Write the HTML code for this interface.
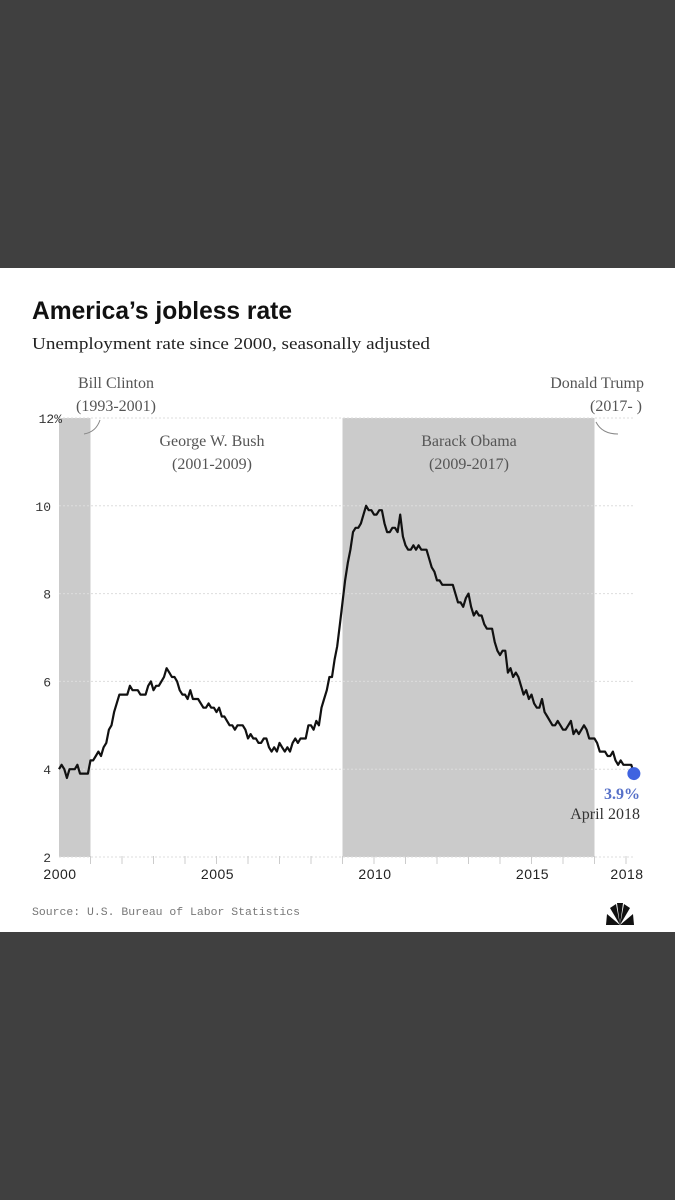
<!DOCTYPE html>
<html><head><meta charset="utf-8"><style>
body{margin:0;width:675px;height:1200px;background:#404040;position:relative;overflow:hidden;font-family:"Liberation Sans",sans-serif}
#card{position:absolute;left:0;top:268px;width:675px;height:664px;background:#fff}
</style></head><body>
<div id="card"></div>
<svg width="675" height="1200" style="position:absolute;left:0;top:0">
<text x="32" y="319" font-family="'Liberation Sans Narrow','Liberation Sans',sans-serif" font-weight="bold" font-size="25" fill="#111" textLength="260" lengthAdjust="spacingAndGlyphs">America’s jobless rate</text>
<text x="32" y="349" font-family="'Liberation Serif',serif" font-size="17" fill="#222" textLength="398" lengthAdjust="spacingAndGlyphs">Unemployment rate since 2000, seasonally adjusted</text>
<g id="bands"></g><g id="grid"></g><g id="ticks"></g>
<g font-family="'Liberation Serif',serif" font-size="16" fill="#555">
<text x="116" y="388" text-anchor="middle">Bill Clinton</text>
<text x="116" y="411" text-anchor="middle">(1993-2001)</text>
<text x="644" y="388" text-anchor="end">Donald Trump</text>
<text x="616" y="411" text-anchor="middle">(2017- )</text>
<text x="212" y="446" text-anchor="middle">George W. Bush</text>
<text x="212" y="469" text-anchor="middle">(2001-2009)</text>
<text x="469" y="446" text-anchor="middle">Barack Obama</text>
<text x="469" y="469" text-anchor="middle">(2009-2017)</text>
</g>
<path d="M100,420 Q96,432 84,434" fill="none" stroke="#888"/>
<path d="M596,422 Q602,434 618,434" fill="none" stroke="#888"/>
<path id="line" fill="none" stroke="#111" stroke-width="2.2" stroke-linejoin="round"/>
<circle id="dot" r="6.5" fill="#3f63e0"/>
<text x="640" y="799" text-anchor="end" font-family="'Liberation Serif',serif" font-weight="bold" font-size="16" fill="#5670c8">3.9%</text>
<text x="640" y="819" text-anchor="end" font-family="'Liberation Serif',serif" font-size="16" fill="#333">April 2018</text>
<text x="32" y="915" font-family="'Liberation Mono',monospace" font-size="11" fill="#777" textLength="268" lengthAdjust="spacingAndGlyphs">Source: U.S. Bureau of Labor Statistics</text>
<g transform="translate(620,918)" fill="#111">
<path d="M-14,7 L0,7 L-13,-4 Z"/><path d="M0,7 L-10,-10 L-4,-14 Z"/><path d="M0,7 L-3,-15 L3,-15 Z"/><path d="M0,7 L4,-14 L10,-10 Z"/><path d="M0,7 L13,-4 L14,7 Z"/>
</g>
</svg>
<script>
const years=[2000,2005,2010,2015,2018];
const yTicks=[2,4,6,8,10,12];
const presidents=[{name:"clinton",s:2000,e:2001},{name:"obama",s:2009,e:2017}];
const rates=[
4.0,4.1,4.0,3.8,4.0,4.0,4.0,4.1,3.9,3.9,3.9,3.9,
4.2,4.2,4.3,4.4,4.3,4.5,4.6,4.9,5.0,5.3,5.5,5.7,
5.7,5.7,5.7,5.9,5.8,5.8,5.8,5.7,5.7,5.7,5.9,6.0,
5.8,5.9,5.9,6.0,6.1,6.3,6.2,6.1,6.1,6.0,5.8,5.7,
5.7,5.6,5.8,5.6,5.6,5.6,5.5,5.4,5.4,5.5,5.4,5.4,
5.3,5.4,5.2,5.2,5.1,5.0,5.0,4.9,5.0,5.0,5.0,4.9,
4.7,4.8,4.7,4.7,4.6,4.6,4.7,4.7,4.5,4.4,4.5,4.4,
4.6,4.5,4.4,4.5,4.4,4.6,4.7,4.6,4.7,4.7,4.7,5.0,
5.0,4.9,5.1,5.0,5.4,5.6,5.8,6.1,6.1,6.5,6.8,7.3,
7.8,8.3,8.7,9.0,9.4,9.5,9.5,9.6,9.8,10.0,9.9,9.9,
9.8,9.8,9.9,9.9,9.6,9.4,9.4,9.5,9.5,9.4,9.8,9.3,
9.1,9.0,9.0,9.1,9.0,9.1,9.0,9.0,9.0,8.8,8.6,8.5,
8.3,8.3,8.2,8.2,8.2,8.2,8.2,8.0,7.8,7.8,7.7,7.9,
8.0,7.7,7.5,7.6,7.5,7.5,7.3,7.2,7.2,7.2,6.9,6.7,
6.6,6.7,6.7,6.2,6.3,6.1,6.2,6.1,5.9,5.7,5.8,5.6,
5.7,5.5,5.4,5.4,5.6,5.3,5.2,5.1,5.0,5.0,5.1,5.0,
4.9,4.9,5.0,5.1,4.8,4.9,4.8,4.9,5.0,4.9,4.7,4.7,
4.7,4.6,4.4,4.4,4.4,4.3,4.3,4.4,4.2,4.1,4.2,4.1,
4.1,4.1,4.1,3.9];
const X=t=>59+(t-2000)*31.5;
const Y=v=>857-(v-2)*43.9;
const NS="http://www.w3.org/2000/svg";
function mk(tag,attrs,parent){const e=document.createElementNS(NS,tag);for(const k in attrs)e.setAttribute(k,attrs[k]);document.getElementById(parent).appendChild(e);return e;}
const xEnd=X(2000+(rates.length-1)/12);
presidents.forEach(p=>{const r=mk("rect",{x:X(p.s),y:Y(12),width:X(p.e)-X(p.s),height:Y(2)-Y(12),fill:"#cbcbcb"},"bands");

});
yTicks.forEach(v=>{const l=mk("line",{x1:X(2000),x2:xEnd,y1:Y(v),y2:Y(v),stroke:"#ddd","stroke-dasharray":"2,2"},"grid");


const t=mk("text",{x:v==12?62:51,y:Y(v)+5,"text-anchor":"end","font-family":"'Liberation Mono',monospace","font-size":"13",fill:"#333"},"grid");
t.textContent=v==12?"12%":v;

});
for(let yr=2001;yr<=2018;yr++){const l=mk("line",{x1:X(yr),x2:X(yr),y1:Y(2)-1,y2:Y(2)+7,stroke:"#ccc"},"ticks");

}
years.forEach(yr=>{const t=mk("text",{x:X(yr)+1,y:879,"text-anchor":"middle","font-size":"14",fill:"#222","letter-spacing":"0.5"},"ticks");
t.textContent=yr;

});
let d="";rates.forEach((v,i)=>{d+=(i?"L":"M")+X(2000+i/12).toFixed(1)+","+Y(v).toFixed(1);});
document.getElementById("line").setAttribute("d",d);
const dot=document.getElementById("dot");dot.setAttribute("cx",xEnd);dot.setAttribute("cy",Y(rates[rates.length-1]));
</script>
</body></html>
